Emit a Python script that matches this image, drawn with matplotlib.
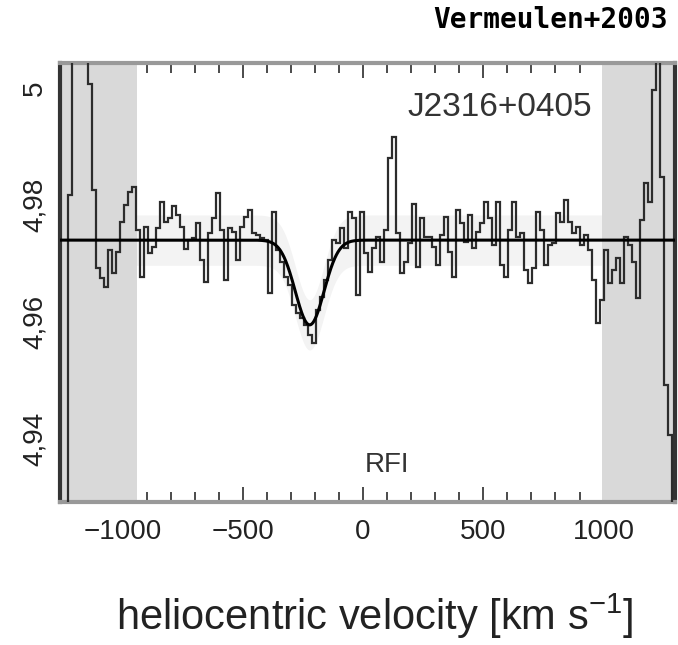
# -*- coding: utf-8 -*-
"""
HI absorption spectrum J2316+0405 with Gaussian fit
"""
import numpy as np
import matplotlib.pyplot as plt
from matplotlib.ticker import MultipleLocator, FuncFormatter

plt.rcParams['font.family'] = ['Liberation Sans', 'DejaVu Sans']
plt.rcParams['mathtext.fontset'] = 'custom'
plt.rcParams['mathtext.rm'] = 'Liberation Sans'
plt.rcParams['mathtext.it'] = 'Liberation Sans:italic'

####### Daten ########

# Kanalraster (heliozentrische Geschwindigkeit, km/s)
kanal_start = -1260.0
kanal_breite = 16.63

# Flussdichte pro Kanal
fluss = [
    4.925, 4.925, 4.9817, 5.008, 5.008, 5.008, 5.008, 5.0007, 4.9826, 4.9692,
    4.9675, 4.9660, 4.9723, 4.9684, 4.9720, 4.9771, 4.9800, 4.9822, 4.9831, 4.9757,
    4.9677, 4.9762, 4.9718, 4.9728, 4.9761, 4.9805, 4.9771, 4.9778, 4.9798, 4.9783,
    4.9762, 4.9725, 4.9740, 4.9744, 4.9769, 4.9706, 4.9668, 4.9752, 4.9778, 4.9821,
    4.9757, 4.9672, 4.9761, 4.9754, 4.9706, 4.9762, 4.9779, 4.9791, 4.9752, 4.9749,
    4.9744, 4.9740, 4.9650, 4.9788, 4.9723, 4.9703, 4.9677, 4.9663, 4.9629, 4.9615,
    4.9607, 4.9595, 4.9578, 4.9564, 4.9621, 4.9643, 4.9672, 4.9706, 4.9740, 4.9735,
    4.9761, 4.9726, 4.9788, 4.9778, 4.9646, 4.9788, 4.9718, 4.9685, 4.9726, 4.9745,
    4.9703, 4.9757, 4.9880, 4.9916, 4.9752, 4.9684, 4.9703, 4.9735, 4.9802, 4.9694,
    4.9778, 4.9745, 4.9745, 4.9728, 4.9697, 4.9749, 4.9779, 4.9720, 4.9677, 4.9791,
    4.9769, 4.9737, 4.9783, 4.9726, 4.9754, 4.9769, 4.9805, 4.9778, 4.9732, 4.9805,
    4.9697, 4.9677, 4.9757, 4.9805, 4.9745, 4.9752, 4.9689, 4.9667, 4.9692, 4.9788,
    4.9757, 4.9697, 4.9732, 4.9735, 4.9786, 4.9771, 4.9809, 4.9771, 4.9752, 4.9762,
    4.9732, 4.9749, 4.9723, 4.9672, 4.9598, 4.9638, 4.9723, 4.9667, 4.9689, 4.9709,
    4.9667, 4.9745, 4.9732, 4.9703, 4.9641, 4.9774, 4.9838, 4.9805, 4.9997, 5.008,
    4.9848, 4.9492, 4.9407, 4.925,
]

# Gauss-Fit der Absorption
fit_basis = 4.974
fit_tiefe = 0.0145
fit_zentrum = -222.0
fit_fwhm = 140.0
fit_fehler = 0.0043   # halbe Breite des hellen Bandes um den Fit

# von RFI gestoerte Bereiche
rfi_links = (-1300, -940)
rfi_rechts = (992, 1350)

x_min, x_max = -1260, 1297
y_min, y_max = 4.9292, 5.0043

####### Plot ########

kanten = kanal_start + kanal_breite * np.arange(len(fluss) + 1)
v_fit = np.linspace(x_min, x_max, 1200)
sigma = fit_fwhm / 2.3548
s_fit = fit_basis - fit_tiefe * np.exp(-0.5 * ((v_fit - fit_zentrum) / sigma) ** 2)

fig = plt.figure(figsize=(6.78, 6.45), dpi=100)
ax = fig.add_axes([60 / 678, 143 / 645, 615 / 678, 439 / 645])

# helles Band um den Fit
ax.fill_between(v_fit, s_fit - fit_fehler, s_fit + fit_fehler, color='#f3f3f3',
                lw=0, zorder=1)

# graue RFI-Bereiche
ax.axvspan(*rfi_links, color='#d9d9d9', lw=0, zorder=2)
ax.axvspan(*rfi_rechts, color='#d9d9d9', lw=0, zorder=2)

ax.stairs(fluss, kanten, color='#2c2c2c', lw=1.6, zorder=3)
ax.plot(v_fit, s_fit, color='black', lw=2.2, zorder=4)

ax.set_xlim(x_min, x_max)
ax.set_ylim(y_min, y_max)

ax.xaxis.set_major_locator(MultipleLocator(500))
ax.xaxis.set_minor_locator(MultipleLocator(100))
ax.yaxis.set_major_locator(MultipleLocator(0.02))
ax.yaxis.set_minor_locator(MultipleLocator(0.004))
ax.yaxis.set_major_formatter(FuncFormatter(lambda v, p: f'{v:g}'.replace('.', ',')))

ax.tick_params(axis='both', which='both', direction='in', top=True, right=True,
               color='#2c2c2c', labelcolor='#222222', labelsize=20)
ax.tick_params(axis='x', which='major', length=11, width=1.2, pad=12)
ax.tick_params(axis='x', which='minor', length=7, width=1.2)
ax.tick_params(axis='y', which='major', length=8, width=1.4, pad=9, labelrotation=90)
ax.tick_params(axis='y', which='minor', length=6, width=1.4)
for lbl in ax.get_yticklabels():
    lbl.set_va('center')

for seite in ['top', 'bottom']:
    ax.spines[seite].set_color('#999999')
    ax.spines[seite].set_linewidth(3)
for seite in ['left', 'right']:
    ax.spines[seite].set_color('#333333')
    ax.spines[seite].set_linewidth(3)

ax.text(0.7154, 0.8975, 'J2316+0405', transform=ax.transAxes, fontsize=24,
        color='#333333', ha='center', va='center', zorder=5)
ax.text(0.532, 0.084, 'RFI', transform=ax.transAxes, fontsize=20,
        color='#333333', ha='center', va='center', zorder=5)

ax.set_xlabel(r'heliocentric velocity [km s$^{-1}$]', fontsize=30, color='#222222')
ax.xaxis.set_label_coords(0.512, -0.205)

fig.text(668 / 678, 1 - 6 / 645, 'Vermeulen+2003', family='DejaVu Sans Mono',
         fontsize=20, weight='bold', ha='right', va='top')

fig.savefig('out.png', dpi=100)
